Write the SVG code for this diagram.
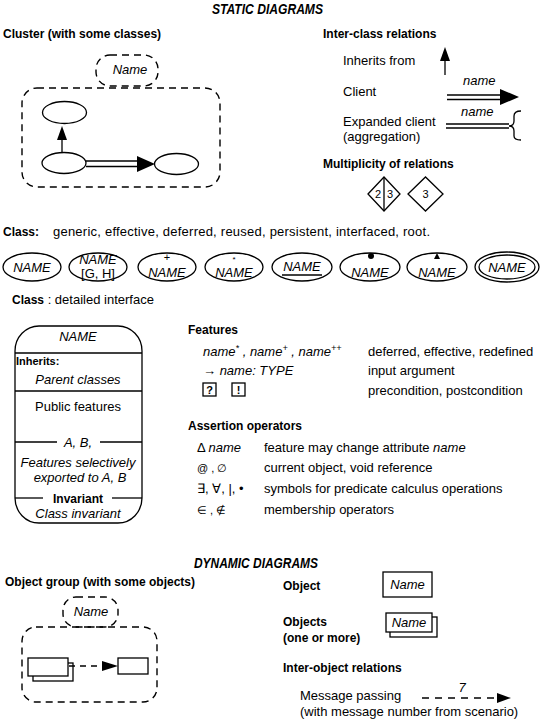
<svg xmlns="http://www.w3.org/2000/svg" width="542" height="720" viewBox="0 0 542 720">
<defs>
<style>
text{font-family:"Liberation Sans Narrow","Liberation Sans",Arial,sans-serif;fill:#000}
.t{font-size:13px}
.h{font-size:12px;font-weight:bold}
.it{font-style:italic}
.title{font-size:15px;font-weight:bold;font-style:italic}
.c{text-anchor:middle}
.ln{fill:none;stroke:#000;stroke-width:1.3}
.dash{fill:none;stroke:#000;stroke-width:1.4;stroke-dasharray:7,5}
.ell{fill:#fff;stroke:#000;stroke-width:1.3}
.fill{fill:#000;stroke:none}
</style>
</defs>

<rect width="542" height="720" fill="#fff"/>

<text class="title" x="212" y="14" textLength="111" lengthAdjust="spacingAndGlyphs">STATIC DIAGRAMS</text>

<!-- Cluster section -->
<g id="cluster-legend">
<text class="h" x="3" y="38">Cluster (with some classes)</text>
<rect class="dash" x="22" y="88" width="198" height="99" rx="15" ry="15"/>
<rect class="dash" x="96" y="55" width="62" height="31" rx="14" ry="14"/>
<text class="t it c" x="130" y="74">Name</text>
</g>
<g id="cluster-class-top"><ellipse class="ell" cx="64.5" cy="112.5" rx="22" ry="11"/></g>
<g id="cluster-class-left"><ellipse class="ell" cx="64" cy="163" rx="22" ry="10.5"/></g>
<g id="cluster-class-right"><ellipse class="ell" cx="176.5" cy="164" rx="22" ry="10.5"/></g>
<g id="cluster-connectors">
<line class="ln" x1="62" y1="152.5" x2="62" y2="138"/>
<polygon class="fill" points="57,140 62,126 67,140"/>
<line class="ln" x1="86" y1="161" x2="140" y2="161"/>
<line class="ln" x1="86" y1="166.5" x2="140" y2="166.5"/>
<polygon class="fill" points="137,156 155,164 137,172"/>
</g>

<!-- Inter-class relations -->
<g id="interclass">
<text class="h" x="323" y="38">Inter-class relations</text>
<text class="t" x="343" y="65">Inherits from</text>
<line class="ln" x1="445" y1="75" x2="445" y2="58"/>
<polygon class="fill" points="440,61 445,47 450,61"/>
<text class="t" x="343" y="96">Client</text>
<text class="t it" x="463" y="85">name</text>
<line class="ln" x1="447" y1="95" x2="502" y2="95"/>
<line class="ln" x1="447" y1="99.5" x2="502" y2="99.5"/>
<polygon class="fill" points="500,89 519,97 500,105"/>
<text class="t" x="343" y="126">Expanded client</text>
<text class="t" x="343" y="141">(aggregation)</text>
<text class="t it" x="461" y="116">name</text>
<line class="ln" x1="446" y1="124" x2="509" y2="124"/>
<line class="ln" x1="446" y1="128" x2="509" y2="128"/>
<path class="ln" d="M521,111 Q514,111 514,116 L514,121 Q514,126 509,126 Q514,126 514,131 L514,136 Q514,140 521,140"/>
</g>

<g id="multiplicity">
<text class="h" x="323" y="168">Multiplicity of relations</text>
<polygon class="ell" points="368,194 384,177 400,194 384,211"/>
<line class="ln" x1="384" y1="177" x2="384" y2="211"/>
<text class="c" style="font-size:11px" x="378" y="198">2</text>
<text class="c" style="font-size:11px" x="390" y="198">3</text>
<polygon class="ell" points="408,194 425.5,177 443,194 425.5,211"/>
<text class="c" style="font-size:11px" x="425.5" y="198">3</text>
</g>

<!-- Class kinds -->
<text class="h" x="3" y="236">Class:</text>
<text class="t" x="53" y="236" textLength="377" lengthAdjust="spacing">generic, effective, deferred, reused, persistent, interfaced, root.</text>

<g id="class-plain"><ellipse class="ell" cx="32" cy="267" rx="29" ry="14"/><text class="t it c" x="32" y="272">NAME</text></g>
<g id="class-generic"><ellipse class="ell" cx="98" cy="267" rx="29" ry="14"/><text class="t it c" x="98" y="264">NAME</text><text class="t c" x="98" y="278">[G, H]</text></g>
<g id="class-effective"><ellipse class="ell" cx="167" cy="267" rx="29" ry="14"/><text class="c" style="font-size:11px" x="167" y="261">+</text><text class="t it c" x="167" y="277">NAME</text></g>
<g id="class-deferred"><ellipse class="ell" cx="234" cy="267" rx="29" ry="14"/><text class="c" style="font-size:8px" x="234" y="262">*</text><text class="t it c" x="234" y="277">NAME</text></g>
<g id="class-reused"><ellipse class="ell" cx="302" cy="267" rx="30" ry="14"/><text class="t it c" x="302" y="271">NAME</text><line class="ln" x1="282" y1="275" x2="322" y2="275"/></g>
<g id="class-persistent"><ellipse class="ell" cx="370" cy="267" rx="30" ry="14"/><circle class="fill" cx="371" cy="256" r="3"/><text class="t it c" x="370" y="277">NAME</text></g>
<g id="class-interfaced"><ellipse class="ell" cx="437" cy="267" rx="30" ry="14"/><polygon class="fill" points="434,259 437,253 440,259"/><text class="t it c" x="437" y="277">NAME</text></g>
<g id="class-root"><ellipse class="ell" cx="507" cy="267" rx="32" ry="15"/><ellipse class="ell" cx="507" cy="267" rx="28" ry="12"/><text class="t it c" x="507" y="272">NAME</text></g>

<!-- Detailed interface -->
<text x="12" y="304"><tspan class="h">Class</tspan><tspan class="t"> : detailed interface</tspan></text>
<g id="class-detailed">
<rect class="ln" x="15" y="326" width="127" height="197" rx="24" ry="25"/>
<text class="t it c" x="78" y="341">NAME</text>
<line class="ln" x1="15" y1="353" x2="142" y2="353"/>
<text class="h" x="16" y="365" style="font-size:11px">Inherits:</text>
<text class="t it c" x="78" y="384">Parent classes</text>
<line class="ln" x1="15" y1="391" x2="142" y2="391"/>
<text class="t c" x="78" y="411">Public features</text>
<line class="ln" x1="15" y1="442" x2="57" y2="442"/>
<line class="ln" x1="100" y1="442" x2="142" y2="442"/>
<text class="t it c" x="78" y="447">A, B,</text>
<text class="t it c" x="78" y="467">Features selectively</text>
<text class="t it c" x="80" y="482">exported to  A, B</text>
<line class="ln" x1="15" y1="498" x2="43" y2="498"/>
<line class="ln" x1="112" y1="498" x2="142" y2="498"/>
<text class="h c" x="78" y="503">Invariant</text>
<text class="t it c" x="78" y="518">Class invariant</text>
</g>

<!-- Features -->
<g id="features">
<text class="h" x="188" y="334">Features</text>
<text class="t it" x="203" y="356">name<tspan baseline-shift="super" font-size="9">*</tspan> , name<tspan baseline-shift="super" font-size="9">+</tspan> , name<tspan baseline-shift="super" font-size="9">++</tspan></text>
<text class="t" x="368" y="356">deferred,  effective, redefined</text>
<text class="t" x="203" y="375">→ <tspan class="it">name: TYPE</tspan></text>
<text class="t" x="368" y="375">input argument</text>
<rect class="ln" x="203" y="383" width="13" height="13"/>
<text class="c" style="font-size:11px;font-weight:bold" x="209.5" y="394">?</text>
<rect class="ln" x="232" y="383" width="13" height="13"/>
<text class="c" style="font-size:11px;font-weight:bold" x="238.5" y="394">!</text>
<text class="t" x="368" y="395">precondition, postcondition</text>
</g>

<g id="assertion">
<text class="h" x="188" y="430">Assertion operators</text>
<text class="t" x="197" y="452">Δ <tspan class="it">name</tspan></text>
<text class="t" x="264" y="452">feature may change attribute <tspan class="it">name</tspan></text>
<text class="t" x="197" y="472" style="font-size:11px">@ , ∅</text>
<text class="t" x="264" y="472">current object, void reference</text>
<text class="t" x="197" y="493">∃, ∀, |,  •</text>
<text class="t" x="264" y="493">symbols for predicate calculus operations</text>
<text class="t" x="197" y="514" style="font-size:11px">∈ , ∉</text>
<text class="t" x="264" y="514">membership operators</text>
</g>

<!-- Dynamic -->
<text class="title" x="194" y="568" textLength="124" lengthAdjust="spacingAndGlyphs">DYNAMIC DIAGRAMS</text>

<g id="object-group">
<text class="h" x="5" y="586">Object group (with some objects)</text>
<rect class="dash" x="22" y="627" width="135" height="75" rx="14" ry="14"/>
<rect class="dash" x="63" y="597" width="55" height="30" rx="13" ry="13"/>
<text class="t it c" x="91" y="616">Name</text>
</g>
<g id="group-objects">
<rect class="ln" x="33" y="663" width="40" height="18" fill="#fff"/>
<rect x="28" y="658" width="40" height="18" fill="#fff" stroke="#000" stroke-width="1.3"/>
</g>
<g id="group-object"><rect class="ln" x="118" y="658" width="30" height="16"/></g>
<g id="group-connector">
<line class="dash" x1="69" y1="666" x2="106" y2="666" style="stroke-dasharray:6,5"/>
<polygon class="fill" points="102,661 118,666 102,671"/>
</g>

<g id="object-legend">
<text class="h" x="283" y="590">Object</text>
<rect class="ln" x="383" y="572" width="49" height="25"/>
<text class="t it c" x="407.5" y="589">Name</text>
</g>
<g id="objects-legend">
<text class="h" x="283" y="626">Objects</text>
<text class="h" x="283" y="642">(one or more)</text>
<rect class="ln" x="390" y="617" width="47" height="20"/>
<rect x="386" y="613" width="46" height="19" fill="#fff" stroke="#000" stroke-width="1.3"/>
<text class="t it c" x="409" y="627">Name</text>
</g>
<g id="interobject">
<text class="h" x="283" y="672">Inter-object relations</text>
<text class="t" x="300" y="700">Message passing</text>
<text class="t" x="300" y="716">(with message number from scenario)</text>
<line class="dash" x1="422" y1="698" x2="500" y2="698" style="stroke-dasharray:7,6"/>
<polygon class="fill" points="497,693 511,698 497,703"/>
<text class="t it c" x="462" y="692">7</text>
</g>
</svg>
